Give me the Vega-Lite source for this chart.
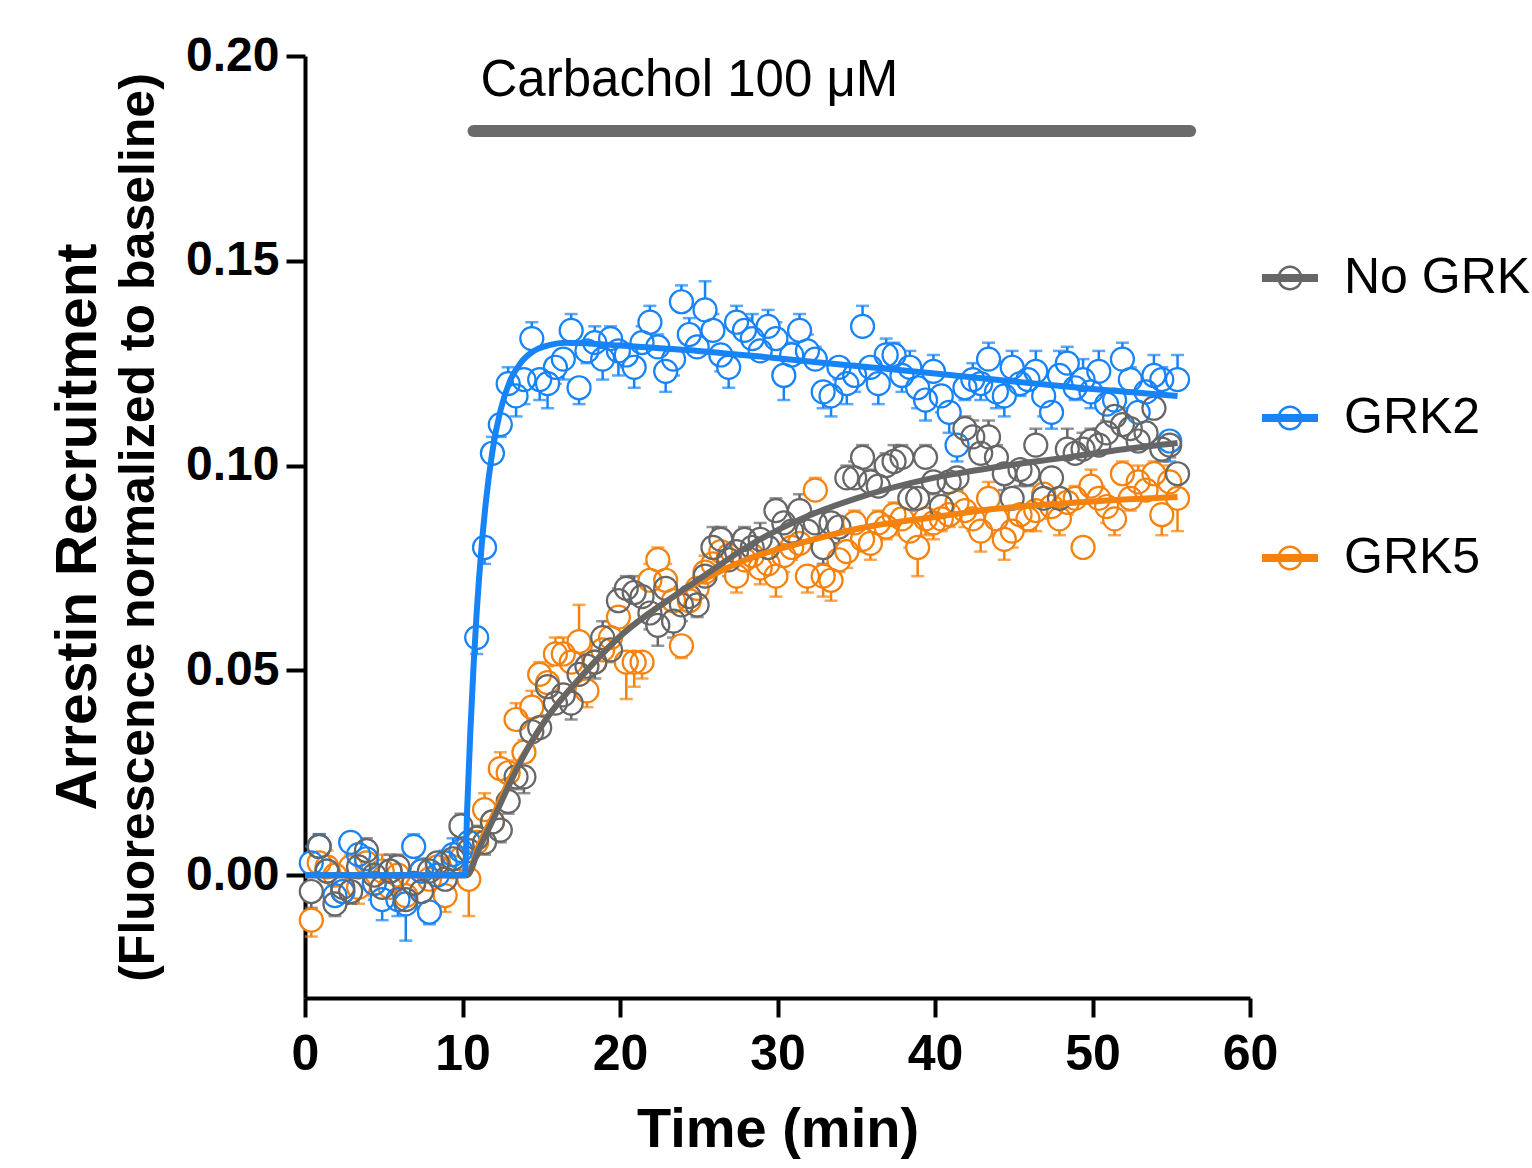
{
"$schema": "https://vega.github.io/schema/vega-lite/v6.json",
"width": 945, "height": 942,
"autosize": {"type": "none"},
"padding": {"left": 305, "top": 56, "right": 282, "bottom": 170},
"background": "white",
"title": {"text": "Arrestin Recruitment", "orient": "left", "anchor": "middle", "fontSize": 57, "fontWeight": "bold", "font": "Liberation Sans", "color": "black", "offset": 6},
"datasets": {
"ann": [{"label": "Carbachol 100 μM", "start": 10.7, "end": 56.2, "level": 0.1817}],
"fit": [
{"s":"GRK5","t":0,"y":0},{"s":"GRK5","t":10.3,"y":0},{"s":"GRK5","t":11,"y":0.007},{"s":"GRK5","t":12,"y":0.015},{"s":"GRK5","t":13.2,"y":0.025},{"s":"GRK5","t":14.3,"y":0.032},{"s":"GRK5","t":15.4,"y":0.0386},{"s":"GRK5","t":17.5,"y":0.0483},{"s":"GRK5","t":20.2,"y":0.059},{"s":"GRK5","t":23,"y":0.067},{"s":"GRK5","t":25.5,"y":0.0725},{"s":"GRK5","t":28,"y":0.077},{"s":"GRK5","t":31.4,"y":0.081},{"s":"GRK5","t":35,"y":0.0845},{"s":"GRK5","t":39.9,"y":0.0874},{"s":"GRK5","t":44,"y":0.0895},{"s":"GRK5","t":48.4,"y":0.0908},{"s":"GRK5","t":52,"y":0.0917},{"s":"GRK5","t":55.4,"y":0.0923},
{"s":"No GRK","t":0,"y":0},{"s":"No GRK","t":10.3,"y":0},{"s":"No GRK","t":11,"y":0.006},{"s":"No GRK","t":12,"y":0.014},{"s":"No GRK","t":13.2,"y":0.024},{"s":"No GRK","t":14.3,"y":0.032},{"s":"No GRK","t":15.4,"y":0.0386},{"s":"No GRK","t":17.5,"y":0.0483},{"s":"No GRK","t":20.2,"y":0.059},{"s":"No GRK","t":23,"y":0.067},{"s":"No GRK","t":25.5,"y":0.0735},{"s":"No GRK","t":28,"y":0.08},{"s":"No GRK","t":31.4,"y":0.0868},{"s":"No GRK","t":35,"y":0.092},{"s":"No GRK","t":39.9,"y":0.097},{"s":"No GRK","t":44,"y":0.0997},{"s":"No GRK","t":48.4,"y":0.102},{"s":"No GRK","t":52,"y":0.104},{"s":"No GRK","t":55.4,"y":0.1055},
{"s":"GRK2","t":0,"y":0},{"s":"GRK2","t":10.15,"y":0},{"s":"GRK2","t":10.3,"y":0.0165},{"s":"GRK2","t":10.5,"y":0.0352},{"s":"GRK2","t":10.7,"y":0.0509},{"s":"GRK2","t":10.9,"y":0.0641},{"s":"GRK2","t":11.2,"y":0.0797},{"s":"GRK2","t":11.5,"y":0.0917},{"s":"GRK2","t":11.9,"y":0.1035},{"s":"GRK2","t":12.4,"y":0.1133},{"s":"GRK2","t":13,"y":0.1205},{"s":"GRK2","t":13.7,"y":0.1251},{"s":"GRK2","t":14.5,"y":0.1279},{"s":"GRK2","t":15.5,"y":0.1294},{"s":"GRK2","t":16.5,"y":0.13},{"s":"GRK2","t":18,"y":0.1298},{"s":"GRK2","t":20,"y":0.1293},{"s":"GRK2","t":25,"y":0.128},{"s":"GRK2","t":30,"y":0.1262},{"s":"GRK2","t":35,"y":0.1243},{"s":"GRK2","t":40,"y":0.1225},{"s":"GRK2","t":45,"y":0.1205},{"s":"GRK2","t":50,"y":0.1187},{"s":"GRK2","t":55.4,"y":0.117}
],
"pts": [
{"s":"GRK5","t":0.4,"y":-0.011,"ye":-0.015},{"s":"GRK5","t":0.9,"y":0.003,"ye":0.006},{"s":"GRK5","t":1.4,"y":0.002,"ye":0.006},{"s":"GRK5","t":1.9,"y":0.0,"ye":-0.003},{"s":"GRK5","t":2.4,"y":-0.004,"ye":-0.007},{"s":"GRK5","t":2.9,"y":0.002,"ye":0.005},{"s":"GRK5","t":3.4,"y":-0.003,"ye":-0.007},{"s":"GRK5","t":3.9,"y":0.003,"ye":0.006},{"s":"GRK5","t":4.4,"y":-0.002,"ye":-0.005},{"s":"GRK5","t":4.9,"y":0.001,"ye":0.005},{"s":"GRK5","t":5.4,"y":-0.003,"ye":-0.006},{"s":"GRK5","t":5.9,"y":0.0,"ye":-0.003},{"s":"GRK5","t":6.4,"y":-0.005,"ye":-0.009},{"s":"GRK5","t":6.9,"y":-0.002,"ye":-0.005},{"s":"GRK5","t":7.4,"y":0.001,"ye":0.004},{"s":"GRK5","t":7.9,"y":-0.001,"ye":-0.004},{"s":"GRK5","t":8.4,"y":0.002,"ye":0.005},{"s":"GRK5","t":8.9,"y":-0.005,"ye":-0.009},{"s":"GRK5","t":9.4,"y":0.002,"ye":0.005},{"s":"GRK5","t":9.9,"y":0.004,"ye":0.007},
{"s":"GRK5","t":10.4,"y":-0.001,"ye":-0.010},{"s":"GRK5","t":10.9,"y":0.008,"ye":0.012},{"s":"GRK5","t":11.4,"y":0.016,"ye":0.020},{"s":"GRK5","t":11.9,"y":0.013,"ye":0.010},{"s":"GRK5","t":12.4,"y":0.026,"ye":0.030},{"s":"GRK5","t":12.9,"y":0.025,"ye":0.028},{"s":"GRK5","t":13.4,"y":0.038,"ye":0.042},{"s":"GRK5","t":13.9,"y":0.030,"ye":0.033},{"s":"GRK5","t":14.4,"y":0.041,"ye":0.045},{"s":"GRK5","t":14.9,"y":0.049,"ye":0.052},{"s":"GRK5","t":15.4,"y":0.047,"ye":0.051},{"s":"GRK5","t":15.9,"y":0.054,"ye":0.058},{"s":"GRK5","t":16.4,"y":0.054,"ye":0.058},{"s":"GRK5","t":16.9,"y":0.052,"ye":0.055},{"s":"GRK5","t":17.4,"y":0.057,"ye":0.066},{"s":"GRK5","t":17.9,"y":0.045,"ye":0.041},{"s":"GRK5","t":18.4,"y":0.052,"ye":0.055},{"s":"GRK5","t":18.9,"y":0.055,"ye":0.058},{"s":"GRK5","t":19.4,"y":0.058,"ye":0.062},{"s":"GRK5","t":19.9,"y":0.063,"ye":0.066},
{"s":"GRK5","t":20.4,"y":0.052,"ye":0.043},{"s":"GRK5","t":20.9,"y":0.052,"ye":0.046},{"s":"GRK5","t":21.4,"y":0.052,"ye":0.048},{"s":"GRK5","t":21.9,"y":0.072,"ye":0.076},{"s":"GRK5","t":22.4,"y":0.077,"ye":0.080},{"s":"GRK5","t":22.9,"y":0.072,"ye":0.076},{"s":"GRK5","t":23.4,"y":0.067,"ye":0.063},{"s":"GRK5","t":23.9,"y":0.056,"ye":0.053},{"s":"GRK5","t":24.4,"y":0.067,"ye":0.064},{"s":"GRK5","t":24.9,"y":0.070,"ye":0.067},{"s":"GRK5","t":25.4,"y":0.074,"ye":0.078},{"s":"GRK5","t":25.9,"y":0.076,"ye":0.079},{"s":"GRK5","t":26.4,"y":0.079,"ye":0.082},{"s":"GRK5","t":26.9,"y":0.078,"ye":0.082},{"s":"GRK5","t":27.4,"y":0.073,"ye":0.069},{"s":"GRK5","t":27.9,"y":0.077,"ye":0.080},{"s":"GRK5","t":28.4,"y":0.078,"ye":0.081},{"s":"GRK5","t":28.9,"y":0.075,"ye":0.071},{"s":"GRK5","t":29.4,"y":0.076,"ye":0.073},{"s":"GRK5","t":29.9,"y":0.073,"ye":0.068},
{"s":"GRK5","t":30.4,"y":0.078,"ye":0.074},{"s":"GRK5","t":30.9,"y":0.080,"ye":0.077},{"s":"GRK5","t":31.4,"y":0.081,"ye":0.084},{"s":"GRK5","t":31.9,"y":0.073,"ye":0.069},{"s":"GRK5","t":32.4,"y":0.094,"ye":0.097},{"s":"GRK5","t":32.9,"y":0.073,"ye":0.068},{"s":"GRK5","t":33.4,"y":0.072,"ye":0.067},{"s":"GRK5","t":33.9,"y":0.077,"ye":0.074},{"s":"GRK5","t":34.4,"y":0.079,"ye":0.075},{"s":"GRK5","t":34.9,"y":0.086,"ye":0.089},{"s":"GRK5","t":35.4,"y":0.082,"ye":0.079},{"s":"GRK5","t":35.9,"y":0.081,"ye":0.077},{"s":"GRK5","t":36.4,"y":0.086,"ye":0.089},{"s":"GRK5","t":36.9,"y":0.085,"ye":0.082},{"s":"GRK5","t":37.4,"y":0.088,"ye":0.091},{"s":"GRK5","t":37.9,"y":0.087,"ye":0.083},{"s":"GRK5","t":38.4,"y":0.084,"ye":0.080},{"s":"GRK5","t":38.9,"y":0.080,"ye":0.073},{"s":"GRK5","t":39.4,"y":0.087,"ye":0.083},{"s":"GRK5","t":39.9,"y":0.086,"ye":0.082},
{"s":"GRK5","t":40.4,"y":0.087,"ye":0.084},{"s":"GRK5","t":40.9,"y":0.088,"ye":0.085},{"s":"GRK5","t":41.4,"y":0.091,"ye":0.095},{"s":"GRK5","t":41.9,"y":0.089,"ye":0.085},{"s":"GRK5","t":42.4,"y":0.087,"ye":0.084},{"s":"GRK5","t":42.9,"y":0.084,"ye":0.079},{"s":"GRK5","t":43.4,"y":0.092,"ye":0.096},{"s":"GRK5","t":43.9,"y":0.087,"ye":0.083},{"s":"GRK5","t":44.4,"y":0.082,"ye":0.077},{"s":"GRK5","t":44.9,"y":0.084,"ye":0.080},{"s":"GRK5","t":45.4,"y":0.088,"ye":0.084},{"s":"GRK5","t":45.9,"y":0.087,"ye":0.084},{"s":"GRK5","t":46.4,"y":0.089,"ye":0.084},{"s":"GRK5","t":46.9,"y":0.093,"ye":0.097},{"s":"GRK5","t":47.4,"y":0.090,"ye":0.087},{"s":"GRK5","t":47.9,"y":0.087,"ye":0.083},{"s":"GRK5","t":48.4,"y":0.091,"ye":0.088},{"s":"GRK5","t":48.9,"y":0.092,"ye":0.095},{"s":"GRK5","t":49.4,"y":0.080,"ye":0.079},{"s":"GRK5","t":49.9,"y":0.095,"ye":0.099},
{"s":"GRK5","t":50.4,"y":0.092,"ye":0.095},{"s":"GRK5","t":50.9,"y":0.090,"ye":0.086},{"s":"GRK5","t":51.4,"y":0.087,"ye":0.083},{"s":"GRK5","t":51.9,"y":0.098,"ye":0.101},{"s":"GRK5","t":52.4,"y":0.092,"ye":0.089},{"s":"GRK5","t":52.9,"y":0.096,"ye":0.100},{"s":"GRK5","t":53.4,"y":0.094,"ye":0.097},{"s":"GRK5","t":53.9,"y":0.098,"ye":0.101},{"s":"GRK5","t":54.4,"y":0.088,"ye":0.083},{"s":"GRK5","t":54.9,"y":0.096,"ye":0.100},{"s":"GRK5","t":55.4,"y":0.092,"ye":0.084},

{"s":"GRK2","t":0.4,"y":0.003,"ye":0.007},{"s":"GRK2","t":0.9,"y":0.007,"ye":0.010},{"s":"GRK2","t":1.4,"y":0.001,"ye":0.004},{"s":"GRK2","t":1.9,"y":-0.005,"ye":-0.009},{"s":"GRK2","t":2.4,"y":-0.004,"ye":-0.007},{"s":"GRK2","t":2.9,"y":0.008,"ye":0.010},{"s":"GRK2","t":3.4,"y":0.005,"ye":0.008},{"s":"GRK2","t":3.9,"y":0.004,"ye":0.007},{"s":"GRK2","t":4.4,"y":-0.002,"ye":-0.006},{"s":"GRK2","t":4.9,"y":-0.006,"ye":-0.011},{"s":"GRK2","t":5.4,"y":0.001,"ye":0.003},{"s":"GRK2","t":5.9,"y":-0.006,"ye":-0.010},{"s":"GRK2","t":6.4,"y":-0.007,"ye":-0.016},{"s":"GRK2","t":6.9,"y":0.007,"ye":0.010},{"s":"GRK2","t":7.4,"y":0.001,"ye":0.004},{"s":"GRK2","t":7.9,"y":-0.009,"ye":-0.012},{"s":"GRK2","t":8.4,"y":0.000,"ye":-0.004},{"s":"GRK2","t":8.9,"y":0.003,"ye":0.006},{"s":"GRK2","t":9.4,"y":0.005,"ye":0.009},{"s":"GRK2","t":9.9,"y":0.006,"ye":0.009},
{"s":"GRK2","t":10.4,"y":0.008,"ye":0.005},{"s":"GRK2","t":10.9,"y":0.058,"ye":0.054},{"s":"GRK2","t":11.4,"y":0.080,"ye":0.076},{"s":"GRK2","t":11.9,"y":0.103,"ye":0.107},{"s":"GRK2","t":12.4,"y":0.110,"ye":0.107},{"s":"GRK2","t":12.9,"y":0.120,"ye":0.124},{"s":"GRK2","t":13.4,"y":0.117,"ye":0.112},{"s":"GRK2","t":13.9,"y":0.121,"ye":0.115},{"s":"GRK2","t":14.4,"y":0.131,"ye":0.135},{"s":"GRK2","t":14.9,"y":0.121,"ye":0.116},{"s":"GRK2","t":15.4,"y":0.120,"ye":0.114},{"s":"GRK2","t":15.9,"y":0.124,"ye":0.120},{"s":"GRK2","t":16.4,"y":0.126,"ye":0.121},{"s":"GRK2","t":16.9,"y":0.133,"ye":0.137},{"s":"GRK2","t":17.4,"y":0.119,"ye":0.115},{"s":"GRK2","t":17.9,"y":0.128,"ye":0.125},{"s":"GRK2","t":18.4,"y":0.130,"ye":0.134},{"s":"GRK2","t":18.9,"y":0.126,"ye":0.121},{"s":"GRK2","t":19.4,"y":0.131,"ye":0.134},{"s":"GRK2","t":19.9,"y":0.128,"ye":0.122},
{"s":"GRK2","t":20.4,"y":0.127,"ye":0.124},{"s":"GRK2","t":20.9,"y":0.124,"ye":0.119},{"s":"GRK2","t":21.4,"y":0.130,"ye":0.134},{"s":"GRK2","t":21.9,"y":0.135,"ye":0.139},{"s":"GRK2","t":22.4,"y":0.129,"ye":0.132},{"s":"GRK2","t":22.9,"y":0.123,"ye":0.118},{"s":"GRK2","t":23.4,"y":0.126,"ye":0.122},{"s":"GRK2","t":23.9,"y":0.140,"ye":0.144},{"s":"GRK2","t":24.4,"y":0.132,"ye":0.136},{"s":"GRK2","t":24.9,"y":0.129,"ye":0.132},{"s":"GRK2","t":25.4,"y":0.138,"ye":0.145},{"s":"GRK2","t":25.9,"y":0.133,"ye":0.137},{"s":"GRK2","t":26.4,"y":0.127,"ye":0.123},{"s":"GRK2","t":26.9,"y":0.124,"ye":0.119},{"s":"GRK2","t":27.4,"y":0.135,"ye":0.139},{"s":"GRK2","t":27.9,"y":0.133,"ye":0.136},{"s":"GRK2","t":28.4,"y":0.131,"ye":0.137},{"s":"GRK2","t":28.9,"y":0.128,"ye":0.131},{"s":"GRK2","t":29.4,"y":0.134,"ye":0.138},{"s":"GRK2","t":29.9,"y":0.131,"ye":0.135},
{"s":"GRK2","t":30.4,"y":0.122,"ye":0.116},{"s":"GRK2","t":30.9,"y":0.127,"ye":0.130},{"s":"GRK2","t":31.4,"y":0.133,"ye":0.137},{"s":"GRK2","t":31.9,"y":0.128,"ye":0.132},{"s":"GRK2","t":32.4,"y":0.126,"ye":0.129},{"s":"GRK2","t":32.9,"y":0.118,"ye":0.114},{"s":"GRK2","t":33.4,"y":0.117,"ye":0.112},{"s":"GRK2","t":33.9,"y":0.124,"ye":0.121},{"s":"GRK2","t":34.4,"y":0.120,"ye":0.115},{"s":"GRK2","t":34.9,"y":0.122,"ye":0.118},{"s":"GRK2","t":35.4,"y":0.134,"ye":0.139},{"s":"GRK2","t":35.9,"y":0.124,"ye":0.121},{"s":"GRK2","t":36.4,"y":0.120,"ye":0.115},{"s":"GRK2","t":36.9,"y":0.127,"ye":0.131},{"s":"GRK2","t":37.4,"y":0.127,"ye":0.130},{"s":"GRK2","t":37.9,"y":0.122,"ye":0.118},{"s":"GRK2","t":38.4,"y":0.124,"ye":0.128},{"s":"GRK2","t":38.9,"y":0.119,"ye":0.114},{"s":"GRK2","t":39.4,"y":0.116,"ye":0.111},{"s":"GRK2","t":39.9,"y":0.123,"ye":0.127},
{"s":"GRK2","t":40.4,"y":0.117,"ye":0.113},{"s":"GRK2","t":40.9,"y":0.113,"ye":0.108},{"s":"GRK2","t":41.4,"y":0.105,"ye":0.101},{"s":"GRK2","t":41.9,"y":0.119,"ye":0.116},{"s":"GRK2","t":42.4,"y":0.121,"ye":0.125},{"s":"GRK2","t":42.9,"y":0.120,"ye":0.116},{"s":"GRK2","t":43.4,"y":0.126,"ye":0.130},{"s":"GRK2","t":43.9,"y":0.118,"ye":0.114},{"s":"GRK2","t":44.4,"y":0.117,"ye":0.112},{"s":"GRK2","t":44.9,"y":0.124,"ye":0.128},{"s":"GRK2","t":45.4,"y":0.120,"ye":0.117},{"s":"GRK2","t":45.9,"y":0.121,"ye":0.124},{"s":"GRK2","t":46.4,"y":0.123,"ye":0.128},{"s":"GRK2","t":46.9,"y":0.117,"ye":0.112},{"s":"GRK2","t":47.4,"y":0.113,"ye":0.109},{"s":"GRK2","t":47.9,"y":0.122,"ye":0.128},{"s":"GRK2","t":48.4,"y":0.125,"ye":0.129},{"s":"GRK2","t":48.9,"y":0.119,"ye":0.116},{"s":"GRK2","t":49.4,"y":0.121,"ye":0.126},{"s":"GRK2","t":49.9,"y":0.118,"ye":0.114},
{"s":"GRK2","t":50.4,"y":0.123,"ye":0.128},{"s":"GRK2","t":50.9,"y":0.115,"ye":0.110},{"s":"GRK2","t":51.4,"y":0.116,"ye":0.112},{"s":"GRK2","t":51.9,"y":0.126,"ye":0.130},{"s":"GRK2","t":52.4,"y":0.121,"ye":0.124},{"s":"GRK2","t":52.9,"y":0.113,"ye":0.109},{"s":"GRK2","t":53.4,"y":0.118,"ye":0.115},{"s":"GRK2","t":53.9,"y":0.122,"ye":0.127},{"s":"GRK2","t":54.4,"y":0.121,"ye":0.124},{"s":"GRK2","t":54.9,"y":0.106,"ye":0.101},{"s":"GRK2","t":55.4,"y":0.121,"ye":0.127},

{"s":"No GRK","t":0.4,"y":-0.004,"ye":-0.008},{"s":"No GRK","t":0.9,"y":0.007,"ye":0.010},{"s":"No GRK","t":1.4,"y":0.001,"ye":0.003},{"s":"No GRK","t":1.9,"y":-0.007,"ye":-0.010},{"s":"No GRK","t":2.4,"y":-0.003,"ye":-0.007},{"s":"No GRK","t":2.9,"y":-0.004,"ye":-0.007},{"s":"No GRK","t":3.4,"y":0.002,"ye":0.005},{"s":"No GRK","t":3.9,"y":0.006,"ye":0.009},{"s":"No GRK","t":4.4,"y":0.000,"ye":0.003},{"s":"No GRK","t":4.9,"y":-0.003,"ye":-0.007},{"s":"No GRK","t":5.4,"y":0.001,"ye":0.005},{"s":"No GRK","t":5.9,"y":0.002,"ye":0.005},{"s":"No GRK","t":6.4,"y":-0.006,"ye":-0.009},{"s":"No GRK","t":6.9,"y":-0.002,"ye":-0.005},{"s":"No GRK","t":7.4,"y":-0.004,"ye":-0.008},{"s":"No GRK","t":7.9,"y":0.001,"ye":0.004},{"s":"No GRK","t":8.4,"y":0.003,"ye":0.005},{"s":"No GRK","t":8.9,"y":-0.001,"ye":-0.004},{"s":"No GRK","t":9.4,"y":0.004,"ye":0.007},{"s":"No GRK","t":9.9,"y":0.012,"ye":0.015},
{"s":"No GRK","t":10.4,"y":0.006,"ye":0.009},{"s":"No GRK","t":10.9,"y":0.009,"ye":0.012},{"s":"No GRK","t":11.4,"y":0.008,"ye":0.005},{"s":"No GRK","t":11.9,"y":0.013,"ye":0.010},{"s":"No GRK","t":12.4,"y":0.011,"ye":0.008},{"s":"No GRK","t":12.9,"y":0.018,"ye":0.015},{"s":"No GRK","t":13.4,"y":0.024,"ye":0.021},{"s":"No GRK","t":13.9,"y":0.024,"ye":0.020},{"s":"No GRK","t":14.4,"y":0.035,"ye":0.038},{"s":"No GRK","t":14.9,"y":0.036,"ye":0.039},{"s":"No GRK","t":15.4,"y":0.046,"ye":0.049},{"s":"No GRK","t":15.9,"y":0.042,"ye":0.045},{"s":"No GRK","t":16.4,"y":0.044,"ye":0.040},{"s":"No GRK","t":16.9,"y":0.042,"ye":0.038},{"s":"No GRK","t":17.4,"y":0.049,"ye":0.053},{"s":"No GRK","t":17.9,"y":0.051,"ye":0.054},{"s":"No GRK","t":18.4,"y":0.052,"ye":0.048},{"s":"No GRK","t":18.9,"y":0.058,"ye":0.062},{"s":"No GRK","t":19.4,"y":0.055,"ye":0.052},{"s":"No GRK","t":19.9,"y":0.067,"ye":0.070},
{"s":"No GRK","t":20.4,"y":0.070,"ye":0.073},{"s":"No GRK","t":20.9,"y":0.069,"ye":0.073},{"s":"No GRK","t":21.4,"y":0.068,"ye":0.071},{"s":"No GRK","t":21.9,"y":0.064,"ye":0.060},{"s":"No GRK","t":22.4,"y":0.061,"ye":0.056},{"s":"No GRK","t":22.9,"y":0.070,"ye":0.073},{"s":"No GRK","t":23.4,"y":0.062,"ye":0.058},{"s":"No GRK","t":23.9,"y":0.066,"ye":0.062},{"s":"No GRK","t":24.4,"y":0.068,"ye":0.065},{"s":"No GRK","t":24.9,"y":0.066,"ye":0.063},{"s":"No GRK","t":25.4,"y":0.073,"ye":0.076},{"s":"No GRK","t":25.9,"y":0.080,"ye":0.085},{"s":"No GRK","t":26.4,"y":0.082,"ye":0.085},{"s":"No GRK","t":26.9,"y":0.077,"ye":0.073},{"s":"No GRK","t":27.4,"y":0.079,"ye":0.083},{"s":"No GRK","t":27.9,"y":0.082,"ye":0.085},{"s":"No GRK","t":28.4,"y":0.080,"ye":0.076},{"s":"No GRK","t":28.9,"y":0.082,"ye":0.086},{"s":"No GRK","t":29.4,"y":0.080,"ye":0.075},{"s":"No GRK","t":29.9,"y":0.089,"ye":0.092},
{"s":"No GRK","t":30.4,"y":0.086,"ye":0.089},{"s":"No GRK","t":30.9,"y":0.084,"ye":0.081},{"s":"No GRK","t":31.4,"y":0.089,"ye":0.093},{"s":"No GRK","t":31.9,"y":0.084,"ye":0.080},{"s":"No GRK","t":32.4,"y":0.086,"ye":0.083},{"s":"No GRK","t":32.9,"y":0.080,"ye":0.076},{"s":"No GRK","t":33.4,"y":0.086,"ye":0.081},{"s":"No GRK","t":33.9,"y":0.085,"ye":0.081},{"s":"No GRK","t":34.4,"y":0.097,"ye":0.100},{"s":"No GRK","t":34.9,"y":0.097,"ye":0.101},{"s":"No GRK","t":35.4,"y":0.102,"ye":0.105},{"s":"No GRK","t":35.9,"y":0.096,"ye":0.099},{"s":"No GRK","t":36.4,"y":0.095,"ye":0.098},{"s":"No GRK","t":36.9,"y":0.100,"ye":0.103},{"s":"No GRK","t":37.4,"y":0.101,"ye":0.105},{"s":"No GRK","t":37.9,"y":0.102,"ye":0.105},{"s":"No GRK","t":38.4,"y":0.092,"ye":0.089},{"s":"No GRK","t":38.9,"y":0.092,"ye":0.088},{"s":"No GRK","t":39.4,"y":0.102,"ye":0.105},{"s":"No GRK","t":39.9,"y":0.096,"ye":0.093},
{"s":"No GRK","t":40.4,"y":0.090,"ye":0.086},{"s":"No GRK","t":40.9,"y":0.096,"ye":0.093},{"s":"No GRK","t":41.4,"y":0.097,"ye":0.094},{"s":"No GRK","t":41.9,"y":0.109,"ye":0.112},{"s":"No GRK","t":42.4,"y":0.107,"ye":0.111},{"s":"No GRK","t":42.9,"y":0.103,"ye":0.106},{"s":"No GRK","t":43.4,"y":0.107,"ye":0.111},{"s":"No GRK","t":43.9,"y":0.102,"ye":0.105},{"s":"No GRK","t":44.4,"y":0.098,"ye":0.094},{"s":"No GRK","t":44.9,"y":0.092,"ye":0.089},{"s":"No GRK","t":45.4,"y":0.099,"ye":0.095},{"s":"No GRK","t":45.9,"y":0.098,"ye":0.095},{"s":"No GRK","t":46.4,"y":0.105,"ye":0.109},{"s":"No GRK","t":46.9,"y":0.092,"ye":0.088},{"s":"No GRK","t":47.4,"y":0.097,"ye":0.094},{"s":"No GRK","t":47.9,"y":0.092,"ye":0.089},{"s":"No GRK","t":48.4,"y":0.104,"ye":0.109},{"s":"No GRK","t":48.9,"y":0.103,"ye":0.106},{"s":"No GRK","t":49.4,"y":0.104,"ye":0.108},{"s":"No GRK","t":49.9,"y":0.106,"ye":0.109},
{"s":"No GRK","t":50.4,"y":0.105,"ye":0.109},{"s":"No GRK","t":50.9,"y":0.108,"ye":0.111},{"s":"No GRK","t":51.4,"y":0.112,"ye":0.116},{"s":"No GRK","t":51.9,"y":0.110,"ye":0.114},{"s":"No GRK","t":52.4,"y":0.109,"ye":0.113},{"s":"No GRK","t":52.9,"y":0.106,"ye":0.109},{"s":"No GRK","t":53.4,"y":0.108,"ye":0.112},{"s":"No GRK","t":53.9,"y":0.114,"ye":0.118},{"s":"No GRK","t":54.4,"y":0.104,"ye":0.101},{"s":"No GRK","t":54.9,"y":0.105,"ye":0.102},{"s":"No GRK","t":55.4,"y":0.098,"ye":0.092}
]
},
"encoding": {
  "x": {"field": "t", "type": "quantitative", "scale": {"domain": [0, 60], "nice": false, "zero": false},
        "axis": {"values": [0,10,20,30,40,50,60], "labelFontSize": 50, "labelPadding": 12, "title": "Time (min)", "titleFontSize": 56, "titlePadding": 23, "labelFlush": false}},
  "y": {"field": "y", "type": "quantitative", "scale": {"domain": [-0.03, 0.2], "nice": false, "zero": false},
        "axis": {"values": [0, 0.05, 0.1, 0.15, 0.2], "format": ".2f", "labelFontSize": 48, "labelPadding": 7, "title": "(Fluorescence normalized to baseline)", "titleFontSize": 50, "titlePadding": 22}},
  "color": {"field": "s", "type": "nominal",
     "scale": {"domain": ["No GRK", "GRK2", "GRK5"], "range": ["#666666", "#1683F8", "#F5820C"]},
     "legend": {"orient": "none", "legendX": 957, "legendY": 194, "title": null, "padding": 0,
       "symbolType": "M-1,-0.14H1V0.14H-1Z M0.45,0A0.45,0.45,0,1,1,-0.45,0A0.45,0.45,0,1,1,0.45,0Z M0.36,0A0.36,0.36,0,1,0,-0.36,0A0.36,0.36,0,1,0,0.36,0Z",
       "symbolSize": 3136, "symbolStrokeWidth": 0, "labelFontSize": 50, "labelFont": "Liberation Sans", "labelColor": "black", "labelOffset": 26, "rowPadding": 87, "labelLimit": 1000,
       "encode": {"symbols": {"update": {"fill": {"scale": "color", "field": "value"}, "stroke": {"value": "transparent"}, "strokeWidth": {"value": 0}, "opacity": {"value": 1}}}}}}
},
"layer": [
  {"data": {"name": "pts"}, "mark": {"type": "rule", "strokeWidth": 2.5},
   "encoding": {"y2": {"field": "ye"}}},
  {"data": {"name": "pts"}, "mark": {"type": "tick", "orient": "horizontal", "thickness": 2.5, "size": 13},
   "encoding": {"y": {"field": "ye", "type": "quantitative"}}},
  {"data": {"name": "pts"}, "mark": {"type": "point", "shape": "circle", "filled": true, "size": 500, "strokeWidth": 0, "opacity": 1},
   "encoding": {"color": {"value": "white"}}},
  {"data": {"name": "pts"}, "mark": {"type": "point", "shape": "circle", "filled": false, "size": 530, "strokeWidth": 2.2, "opacity": 1}},
  {"data": {"name": "fit"}, "mark": {"type": "line", "strokeWidth": 6, "interpolate": "monotone"}},
  {"data": {"name": "ann"}, "mark": {"type": "rule", "strokeWidth": 12, "strokeCap": "round"},
   "encoding": {"x": {"field": "start", "type": "quantitative"}, "x2": {"field": "end"}, "y": {"field": "level", "type": "quantitative"}, "color": {"value": "#6b6b6b"}}},
  {"data": {"name": "ann"}, "mark": {"type": "text", "align": "left", "baseline": "alphabetic", "dx": 7, "dy": -35, "fontSize": 51, "font": "Liberation Sans"},
   "encoding": {"x": {"field": "start", "type": "quantitative"}, "y": {"field": "level", "type": "quantitative"}, "text": {"field": "label"}, "color": {"value": "black"}}}
],
"config": {
  "view": {"stroke": null},
  "font": "Liberation Sans",
  "axis": {"domainColor": "black", "domainWidth": 4, "tickColor": "black", "tickWidth": 4, "tickSize": 19, "labelColor": "black", "labelFont": "Liberation Sans", "labelFontWeight": "bold", "titleFont": "Liberation Sans", "titleFontWeight": "bold", "titleColor": "black", "grid": false}
}
}
